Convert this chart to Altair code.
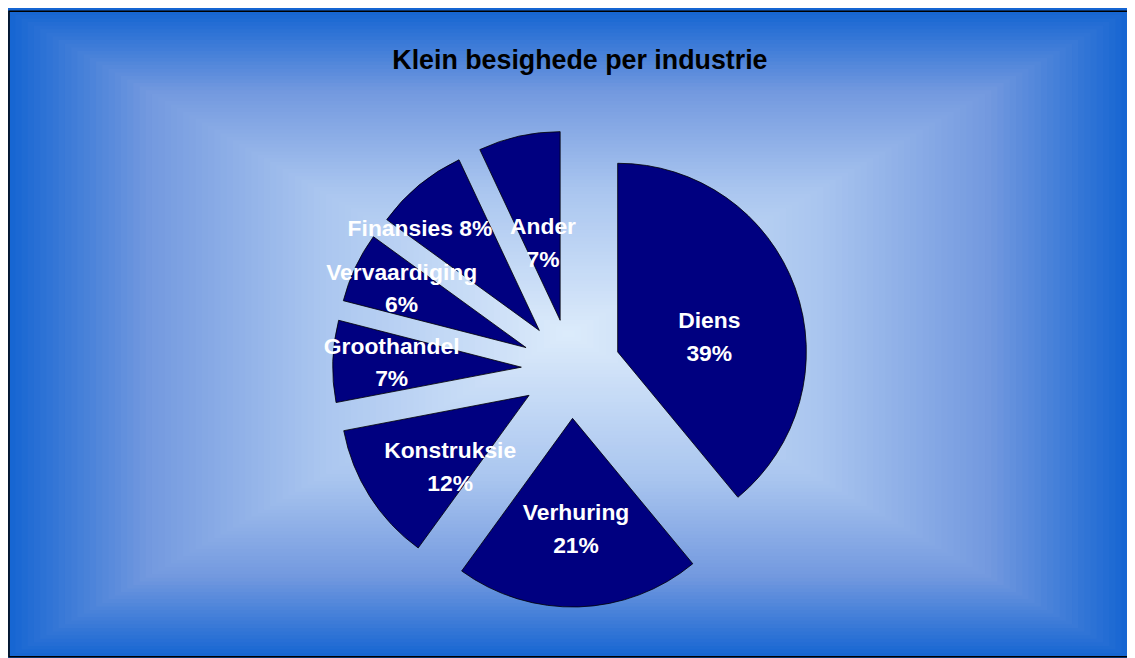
import altair as alt
import pandas as pd

# ---- data ----
categories = ["Diens", "Verhuring", "Konstruksie", "Groothandel", "Vervaardiging", "Finansies", "Ander"]
values = [39, 21, 12, 7, 6, 8, 7]
label_text = ["Diens\n39%", "Verhuring\n21%", "Konstruksie\n12%", "Groothandel\n7%",
              "Vervaardiging\n6%", "Finansies 8%", "Ander\n7%"]
title_text = ["Klein besighede per industrie"]

# ---- layout / style constants (plot coordinates) ----
W, H = 1127, 650
CX, CY = 566, 360               # pie centre
R = 190                         # pie radius
EXPLODE = 50                    # explode distance
FONT = "Liberation Sans"
LINE_H = 33
N_BANDS = 90                    # steps of the rectangular "from centre" background gradient
grad_stops = [0, 0.45, 0.75, 1]
grad_colors = ["#dcebfb", "#a9c5ef", "#7399df", "#1565d2"]
# label placement style: (factor on slice-centroid distance, angle offset in degrees)
label_tweak = {
    "Diens": (0.96, 10.8), "Verhuring": (0.95, 0), "Konstruksie": (0.87, -10),
    "Groothandel": (1.04, 0), "Vervaardiging": (1.1, 0), "Finansies": (1.26, -10),
    "Ander": (0.63, 0),
}


def cond_expr(idx):
    expr = "1" if idx == 0 else "0"
    for k, v in label_tweak.items():
        expr = f"datum.category==='{k}'?{v[idx]}:({expr})"
    return expr


df = pd.DataFrame({
    "category": categories,
    "value": values,
    "label": label_text,
    "order": list(range(len(categories))),
})

base = (
    alt.Chart(df)
    .transform_window(cum="sum(value)", sort=[alt.SortField("order")], frame=[None, 0])
    .transform_joinaggregate(total="sum(value)")
    .transform_calculate(
        a0="2*PI*(datum.cum-datum.value)/datum.total",
        a1="2*PI*datum.cum/datum.total",
    )
    .transform_calculate(mid="(datum.a0+datum.a1)/2", span="datum.a1-datum.a0")
    .transform_calculate(
        cx=f"{CX}+{EXPLODE}*sin(datum.mid)",
        cy=f"{CY}-{EXPLODE}*cos(datum.mid)",
        # distance of the sector centroid from its apex
        cen=f"4*{R}*sin(datum.span/2)/(3*datum.span)",
        nlines="length(split(datum.label, '\\n'))",
        fac=cond_expr(0),
        doff=cond_expr(1),
    )
    .transform_calculate(
        ldist="datum.cen*datum.fac",
        lang="datum.mid+datum.doff*PI/180",
    )
    .transform_calculate(
        lx="datum.cx+datum.ldist*sin(datum.lang)",
        ly=f"datum.cy-datum.ldist*cos(datum.lang)-(datum.nlines-1)*{LINE_H}/2",
    )
)

arcs = base.mark_arc(radius=R, color="#000080", stroke="#000000", strokeWidth=0.8).encode(
    x=alt.X("cx:Q", scale=None, axis=None),
    y=alt.Y("cy:Q", scale=None, axis=None),
    theta=alt.Theta("a0:Q", scale=None),
    theta2="a1:Q",
    tooltip=[alt.Tooltip("category:N"), alt.Tooltip("value:Q")],
)

labels = base.mark_text(
    font=FONT, fontSize=23, fontWeight="bold", color="white",
    lineBreak="\n", lineHeight=LINE_H, align="center", baseline="middle",
).encode(
    x=alt.X("lx:Q", scale=None, axis=None),
    y=alt.Y("ly:Q", scale=None, axis=None),
    text="label:N",
)

# rectangular gradient: nested rectangles, outermost first
bands = alt.Chart(alt.sequence(0, N_BANDS, as_="i")).transform_calculate(
    m=f"1-datum.i/{N_BANDS}",
    mc=f"1-(datum.i+0.5)/{N_BANDS}",
).transform_calculate(
    bx0=f"{W/2}-datum.m*{W/2}", bx1=f"{W/2}+datum.m*{W/2}",
    by0=f"{H/2}-datum.m*{H/2}", by1=f"{H/2}+datum.m*{H/2}",
).mark_rect(strokeWidth=0).encode(
    x=alt.X("bx0:Q", scale=None, axis=None), x2="bx1:Q",
    y=alt.Y("by0:Q", scale=None, axis=None), y2="by1:Q",
    color=alt.Color("mc:Q", scale=alt.Scale(domain=grad_stops, range=grad_colors,
                                            interpolate="rgb"), legend=None),
    order=alt.Order("i:Q"),
)

frame = alt.Chart(pd.DataFrame({"k": [0]})).mark_rect(
    fillOpacity=0, stroke="black", strokeWidth=1.5
).encode(
    x=alt.value(0), x2=alt.value(W),
    y=alt.value(0), y2=alt.value(H),
)

title = alt.Chart(pd.DataFrame({"t": title_text})).mark_text(
    font=FONT, fontSize=27, fontWeight="bold", color="black",
    align="center", baseline="alphabetic",
).encode(
    x=alt.value(575), y=alt.value(58), text="t:N",
)

chart = alt.layer(bands, frame, arcs, labels, title).properties(
    width=W, height=H,
    padding=0,
    autosize=alt.AutoSizeParams(type="fit", contains="padding"),
).configure(background="#1565d2").configure_view(stroke=None)

chart.save("out.html", embed_options={"renderer": "svg", "actions": False})
